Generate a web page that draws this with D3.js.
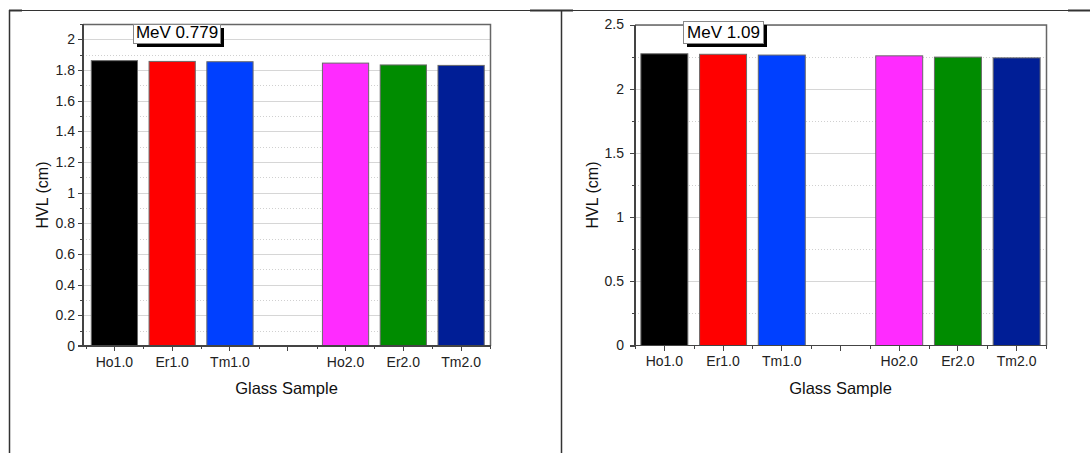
<!doctype html>
<html lang="en">
<head>
    <meta charset="UTF-8">
    <title>HVL of glass samples at 0.779 and 1.09 MeV</title>
    <style>
        body {
            margin: 0;
            background: #fff;
        }

        svg text {
            font-family: "Liberation Sans", Arial, sans-serif;
        }

        .axis path,
        .axis line {
            stroke: #444;
            shape-rendering: crispEdges;
        }

        .axis text {
            font-size: 14px;
            fill: #222;
        }

        .grid-major line {
            stroke: #d6d6d6;
            shape-rendering: crispEdges;
        }

        .grid-minor line {
            stroke: #d0d0d0;
            stroke-dasharray: 1, 2;
            shape-rendering: crispEdges;
        }
    </style>
</head>
<body>
<svg class="chart" width="1090" height="453"></svg>

<script src="https://d3js.org/d3.v7.min.js"></script>
<script>
    // data
    var samples = ["Ho1.0", "Er1.0", "Tm1.0", "", "Ho2.0", "Er2.0", "Tm2.0"];
    var barColors = ["#000000", "#ff0000", "#0040ff", "none", "#ff2bff", "#008c00", "#001e96"];
    var hvl0779 = [1.861, 1.856, 1.854, null, 1.845, 1.833, 1.830];
    var hvl109 = [2.272, 2.268, 2.262, null, 2.256, 2.246, 2.240];
    var yTicks0779 = [0, 0.2, 0.4, 0.6, 0.8, 1, 1.2, 1.4, 1.6, 1.8, 2];
    var yTicks109 = [0, 0.5, 1, 1.5, 2, 2.5];

    var svg = d3.select(".chart");

    // table cell borders round the two figures
    var borders = svg.append("g").attr("stroke", "#333").attr("fill", "none");
    borders.append("line").attr("x1", 9).attr("x2", 1090).attr("y1", 10.5).attr("y2", 10.5);
    borders.append("line").attr("x1", 9.5).attr("x2", 9.5).attr("y1", 10).attr("y2", 453).attr("stroke-width", 1.5);
    borders.append("line").attr("x1", 561.5).attr("x2", 561.5).attr("y1", 10).attr("y2", 453).attr("stroke-width", 1.5);
    [[9, 22], [530, 573], [1068, 1090]].forEach(function(s) {
        borders.append("line").attr("x1", s[0]).attr("x2", s[1]).attr("y1", 10.5).attr("y2", 10.5).attr("stroke-width", 2);
    });

    function drawChart(opt) {
        var g = svg.append("g");
        var values = opt.values;

        var x = d3.scaleBand().domain(samples)
            .range([opt.left + opt.xInset, opt.right])
            .paddingInner(0.2).paddingOuter(0.1);
        var y = d3.scaleLinear().domain([0, opt.yMax]).range([opt.bottom, opt.top]);

        var minor = d3.range(0, opt.yMax + 1e-9, opt.minorStep);

        // grid
        g.append("g").attr("class", "grid-minor")
            .selectAll("line").data(minor.filter(function(v) { return opt.ticks.indexOf(+v.toFixed(3)) < 0; }))
            .enter().append("line")
            .attr("x1", opt.left).attr("x2", opt.right)
            .attr("y1", function(d) { return Math.round(y(d)) + 0.5; })
            .attr("y2", function(d) { return Math.round(y(d)) + 0.5; });
        g.append("g").attr("class", "grid-major")
            .selectAll("line").data(opt.ticks.filter(function(v) { return v > 0; }))
            .enter().append("line")
            .attr("x1", opt.left).attr("x2", opt.right)
            .attr("y1", function(d) { return Math.round(y(d)) + 0.5; })
            .attr("y2", function(d) { return Math.round(y(d)) + 0.5; });

        // bars
        g.selectAll(".bar").data(samples.map(function(s, i) {
                return {name: s, value: values[i], color: barColors[i]};
            }).filter(function(d) { return d.value != null; }))
            .enter().append("rect").attr("class", "bar")
            .attr("x", function(d) { return x(d.name); })
            .attr("y", function(d) { return y(d.value); })
            .attr("width", x.bandwidth())
            .attr("height", function(d) { return y(0) - y(d.value); })
            .attr("fill", function(d) { return d.color; })
            .attr("stroke", "#6a6a6a")
            .attr("stroke-width", 1);

        // frame top and right
        g.append("path")
            .attr("d", "M" + opt.left + "," + (opt.top + 0.5) + "H" + (opt.right + 0.5) + "V" + opt.bottom)
            .attr("fill", "none").attr("stroke", "#666").attr("stroke-width", 1.5);

        // y axis
        var yAxis = g.append("g").attr("class", "axis")
            .attr("transform", "translate(" + opt.left + ",0)");
        yAxis.call(d3.axisLeft(y).tickValues(opt.ticks).tickSize(5).tickPadding(opt.yPad)
            .tickFormat(function(d) { return d3.format("~g")(d); }));
        yAxis.select(".domain").attr("d", "M0," + opt.top + "V" + opt.bottom).attr("stroke-width", 1.5);
        g.append("g").attr("class", "axis")
            .attr("transform", "translate(" + opt.left + ",0)")
            .call(d3.axisLeft(y).tickValues(minor).tickSize(3).tickFormat(""))
            .select(".domain").remove();

        // x axis
        var xAxis = g.append("g").attr("class", "axis")
            .attr("transform", "translate(0," + opt.bottom + ")");
        xAxis.call(d3.axisBottom(x).tickSize(5).tickPadding(6));
        xAxis.select(".domain").attr("d", "M" + (opt.left - 5) + ",0H" + (opt.right + 0.5)).attr("stroke-width", 1.5);
        var bounds = samples.map(function(s) { return x(s) - x.step() * x.paddingInner() / 2; })
            .concat([opt.right]);
        xAxis.selectAll(".minor").data(bounds).enter().append("line")
            .attr("class", "minor")
            .attr("x1", function(d) { return Math.round(d) + 0.5; })
            .attr("x2", function(d) { return Math.round(d) + 0.5; })
            .attr("y1", 0).attr("y2", 3);

        // axis titles
        g.append("text")
            .attr("transform", "translate(" + opt.yLabelX + "," + ((opt.top + opt.bottom) / 2 + 10) + ") rotate(-90)")
            .attr("text-anchor", "middle").attr("dy", "0.35em")
            .style("font-size", "16px").attr("fill", "#111")
            .text("HVL (cm)");
        g.append("text")
            .attr("x", (opt.left + opt.right) / 2).attr("y", opt.bottom + 48)
            .attr("text-anchor", "middle")
            .style("font-size", "16.5px").attr("fill", "#111")
            .text("Glass Sample");

        // energy label box with shadow
        var box = g.append("g").attr("transform", "translate(" + opt.box[0] + "," + opt.box[1] + ")");
        box.append("rect").attr("x", 4).attr("y", 4)
            .attr("width", opt.box[2]).attr("height", opt.box[3]).attr("fill", "#000");
        box.append("rect").attr("x", 0.5).attr("y", 0.5)
            .attr("width", opt.box[2]).attr("height", opt.box[3])
            .attr("fill", "#fff").attr("stroke", "#888");
        box.append("text")
            .attr("x", opt.box[2] / 2 + 0.5).attr("y", opt.box[3] - 5)
            .attr("text-anchor", "middle")
            .style("font-size", "17px").attr("fill", "#000")
            .text(opt.label);
    }

    drawChart({
        values: hvl0779, ticks: yTicks0779, yMax: 2.1, minorStep: 0.1,
        left: 83, xInset: 2.5, right: 490, top: 24, bottom: 346,
        yPad: 3, yLabelX: 42, label: "MeV 0.779", box: [133, 24, 87, 19]
    });
    drawChart({
        values: hvl109, ticks: yTicks109, yMax: 2.5, minorStep: 0.25,
        left: 635, xInset: 0, right: 1046, top: 24.5, bottom: 345.5,
        yPad: 6, yLabelX: 592, label: "MeV 1.09", box: [683, 21, 80, 22]
    });
</script>
</body>
</html>
